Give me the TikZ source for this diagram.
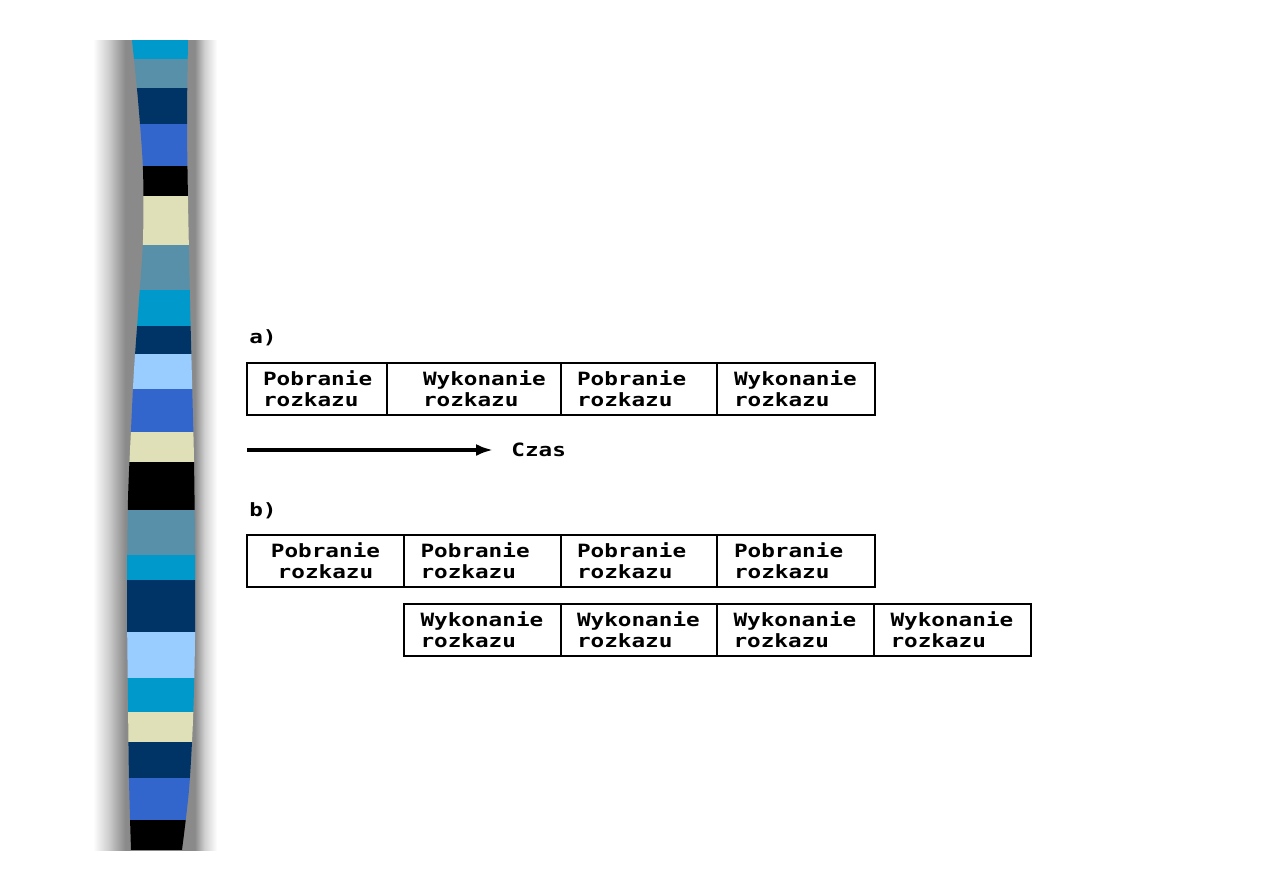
\documentclass[tikz,border=0pt]{standalone}
\usepackage{fontspec}
\usepackage{tikz}
\usetikzlibrary{arrows.meta,positioning}
\newfontfamily\dotfont[FakeStretch=1.24]{DejaVu Sans Mono}
\definecolor{stCyan}{HTML}{0099CC}
\definecolor{stSteel}{HTML}{5790A8}
\definecolor{stNavy}{HTML}{003366}
\definecolor{stRoyal}{HTML}{3366CC}
\definecolor{stBeige}{HTML}{DFDFB8}
\definecolor{stLight}{HTML}{99CCFF}
\definecolor{shadowGray}{HTML}{8A8A8A}
\pgfdeclarehorizontalshading{stripshadow}{100bp}{color(0bp)=(white); color(25bp)=(white); color(31bp)=(shadowGray!40); color(38bp)=(shadowGray); color(66bp)=(shadowGray); color(70bp)=(shadowGray!40); color(75bp)=(white); color(100bp)=(white)}
\tikzset{
  cell/.style={draw, line width=1.6pt, outer sep=0pt, inner sep=0pt, minimum height=10.4mm, text width=24.8mm, align=left, font=\dotfont\bfseries\fontsize{10.4}{12}\selectfont},
  lbl/.style={inner sep=0pt, font=\dotfont\bfseries\fontsize{10.4}{12}\selectfont},
  arr/.style={-{Latex[length=3.4mm,width=2.4mm]}, line width=1.9pt},
}
\begin{document}
\begin{tikzpicture}[x=0.2mm, y=-0.2mm]
  \useasboundingbox (0,0) rectangle (1263,893);
  % decorative strip on the left
  \shade[shading=stripshadow] (93,40) rectangle (217,850);
  \begin{scope}
    \clip plot[smooth] coordinates {(132,40) (138,100) (143,170) (143,240) (139,300) (134,370) (131,430) (128,500) (127,600) (128,700) (129,780) (131,850)}
      -- plot[smooth] coordinates {(182,850) (189,790) (193,720) (195,640) (195,550) (194,460) (192,380) (190,300) (188,200) (187,120) (188,40)} -- cycle;
    \foreach \col/\ya/\yb in {stCyan/40/59, stSteel/59/88, stNavy/88/124, stRoyal/124/166, black/166/196, stBeige/196/245,
        stSteel/245/290, stCyan/290/326, stNavy/326/354, stLight/354/389, stRoyal/389/432, stBeige/432/462,
        black/462/510, stSteel/510/555, stCyan/555/580, stNavy/580/632, stLight/632/678, stCyan/678/712,
        stBeige/712/742, stNavy/742/778, stRoyal/778/820, black/820/850}
      \fill[\col] (110,\ya) rectangle (210,\yb);
  \end{scope}

  % a) sequential
  \node[lbl, anchor=west] (labA) at (249,338) {a)};
  \node[cell, minimum width=28mm, text width=21.6mm, anchor=west] (a1) at (247,389) {Pobranie\\rozkazu};
  \node[cell, minimum width=34.8mm, text width=20.4mm, right=0pt of a1] (a2) {Wykonanie\\rozkazu};
  \node[cell, minimum width=31.2mm, right=0pt of a2] (a3) {Pobranie\\rozkazu};
  \node[cell, minimum width=31.6mm, right=0pt of a3] (a4) {Wykonanie\\rozkazu};

  \coordinate (t0) at (247,450);
  \node[lbl, anchor=west] (czas) at (511,450) {Czas};
  \draw[arr, shorten >=3.6mm] (t0) -- (czas.west);

  % b) overlapped
  \node[lbl, anchor=west] (labB) at (249,511) {b)};
  \node[cell, minimum width=31.4mm, align=center, anchor=west] (b1) at (247,561) {Pobranie\\rozkazu};
  \node[cell, minimum width=31.4mm, right=0pt of b1] (b2) {Pobranie\\rozkazu};
  \node[cell, minimum width=31.2mm, right=0pt of b2] (b3) {Pobranie\\rozkazu};
  \node[cell, minimum width=31.6mm, right=0pt of b3] (b4) {Pobranie\\rozkazu};

  \node[cell, minimum width=31.4mm, below=3.4mm of b2.south west, anchor=north west] (c1) {Wykonanie\\rozkazu};
  \node[cell, minimum width=31.2mm, right=0pt of c1] (c2) {Wykonanie\\rozkazu};
  \node[cell, minimum width=31.4mm, right=0pt of c2] (c3) {Wykonanie\\rozkazu};
  \node[cell, minimum width=31.4mm, right=0pt of c3] (c4) {Wykonanie\\rozkazu};
\end{tikzpicture}
\end{document}
